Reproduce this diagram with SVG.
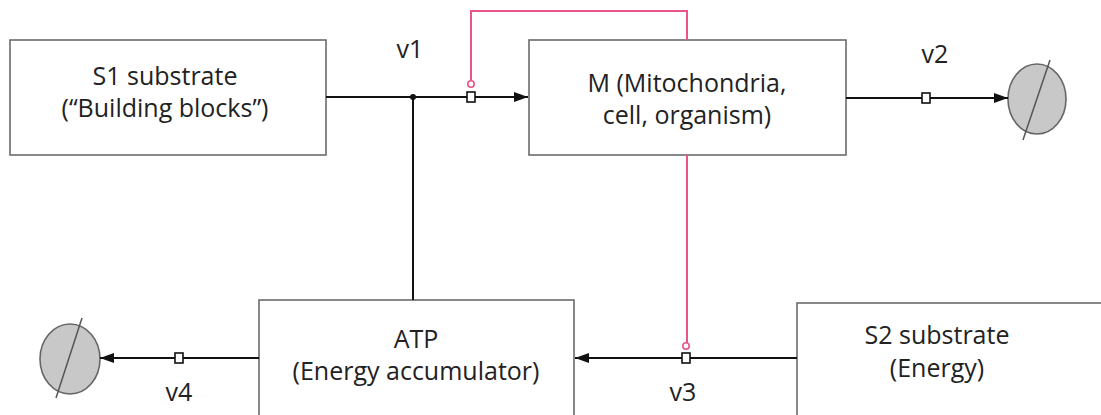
<svg xmlns="http://www.w3.org/2000/svg" width="1101" height="415" viewBox="0 0 1101 415">
<style>
.box{fill:#fff;stroke:#6b6b6b;stroke-width:1.6}
.t{font-family:"Open Sans","Liberation Sans",sans-serif;font-size:25px;fill:#222;text-anchor:middle}
.ln{stroke:#111;stroke-width:2;fill:none}
.pk{stroke:#e8558a;stroke-width:2;fill:none}
.sq{fill:#fff;stroke:#111;stroke-width:1.6}
.sink{fill:#c8c8c8;stroke:#666;stroke-width:1.6}
</style>
<defs>
<marker id="ah" markerWidth="14" markerHeight="10" refX="14" refY="5" orient="auto" markerUnits="userSpaceOnUse">
<path d="M0,0 L14,5 L0,10 Z" fill="#111"/>
</marker>
</defs>
<g id="S1">
<rect class="box" x="10" y="40" width="316" height="115"/>
<text class="t" x="165" y="85">S1 substrate</text>
<text class="t" x="165" y="117">(“Building blocks”)</text>
</g>
<g id="M">
<rect class="box" x="529" y="40" width="317" height="115"/>
<text class="t" x="687" y="92">M (Mitochondria,</text>
<text class="t" x="687" y="124">cell, organism)</text>
</g>
<g id="ATP">
<rect class="box" x="259" y="300" width="315" height="125"/>
<text class="t" x="416" y="348">ATP</text>
<text class="t" x="416" y="380">(Energy accumulator)</text>
</g>
<g id="S2">
<rect class="box" x="797" y="303" width="310" height="125"/>
<text class="t" x="937" y="344">S2 substrate</text>
<text class="t" x="937" y="377">(Energy)</text>
</g>
<g id="sink2">
<ellipse class="sink" cx="1037" cy="99" rx="29" ry="35"/>
<line x1="1050" y1="60" x2="1023" y2="140" stroke="#555" stroke-width="1.5"/>
</g>
<g id="sink4">
<ellipse class="sink" cx="70" cy="359" rx="30" ry="35"/>
<line x1="82" y1="318" x2="56" y2="398" stroke="#555" stroke-width="1.5"/>
</g>
<g id="connectors">
<line class="ln" x1="326" y1="97" x2="528" y2="97" marker-end="url(#ah)"/>
<line class="ln" x1="413" y1="97" x2="413" y2="300"/>
<circle cx="413" cy="97" r="3" fill="#111"/>
<line class="ln" x1="846" y1="98" x2="1008" y2="98" marker-end="url(#ah)"/>
<line class="ln" x1="797" y1="358" x2="575" y2="358" marker-end="url(#ah)"/>
<line class="ln" x1="259" y1="358" x2="100" y2="358" marker-end="url(#ah)"/>
<path class="pk" d="M471,81 V11 H687 V40"/>
<circle cx="471" cy="84" r="3.2" fill="#fff" stroke="#e8558a" stroke-width="1.6"/>
<path class="pk" d="M687,155 V343"/>
<circle cx="686" cy="346" r="3.2" fill="#fff" stroke="#e8558a" stroke-width="1.6"/>
<rect class="sq" x="467" y="92" width="8" height="10"/>
<rect class="sq" x="922" y="93" width="8" height="10"/>
<rect class="sq" x="682" y="353" width="8" height="10"/>
<rect class="sq" x="175" y="353" width="8" height="10"/>
</g>
<g id="labels">
<text class="t" x="410" y="58">v1</text>
<text class="t" x="935" y="63">v2</text>
<text class="t" x="683" y="401">v3</text>
<text class="t" x="179" y="401">v4</text>
</g>
</svg>
